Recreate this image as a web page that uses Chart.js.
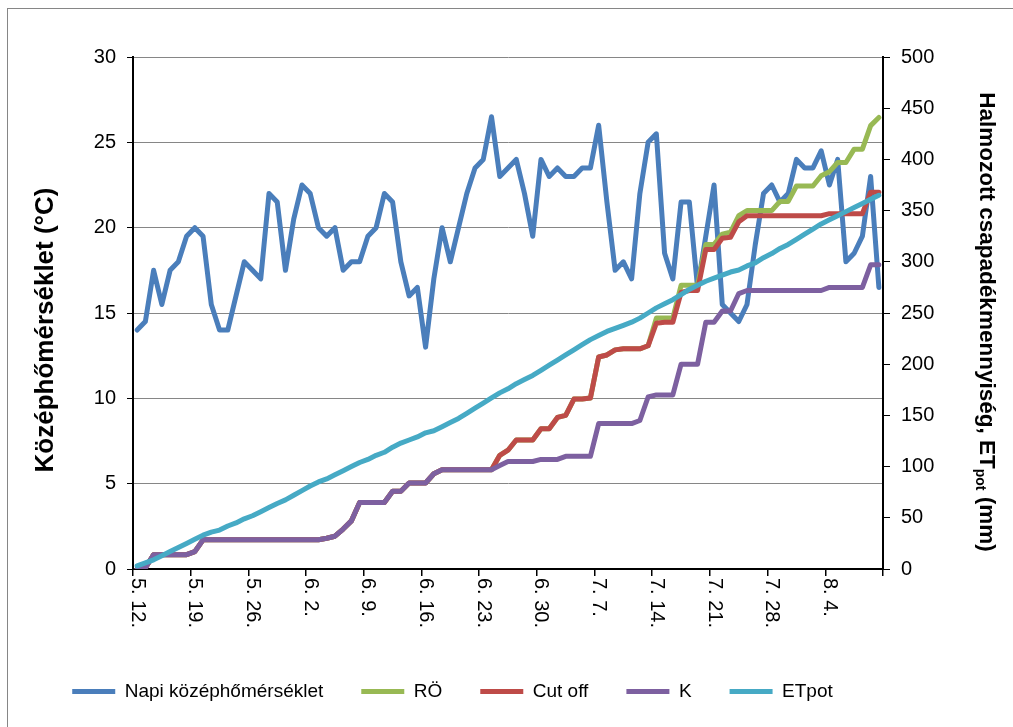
<!DOCTYPE html>
<html>
<head>
<meta charset="utf-8">
<script src="https://cdn.jsdelivr.net/npm/chart.js@4"></script>
<style>
  html, body { margin: 0; padding: 0; background: #fff; }
</style>
</head>
<body>
<canvas id="myChart" width="1013" height="727"></canvas>
<script>
// daily values, 5.12 - 8.10
const temperature = [
    14.0, 14.5, 17.5, 15.5, 17.5, 18.0, 19.5, 20.0, 19.5, 15.5,
    14.0, 14.0, 16.0, 18.0, 17.5, 17.0, 22.0, 21.5, 17.5, 20.5,
    22.5, 22.0, 20.0, 19.5, 20.0, 17.5, 18.0, 18.0, 19.5, 20.0,
    22.0, 21.5, 18.0, 16.0, 16.5, 13.0, 17.0, 20.0, 18.0, 20.0,
    22.0, 23.5, 24.0, 26.5, 23.0, 23.5, 24.0, 22.0, 19.5, 24.0,
    23.0, 23.5, 23.0, 23.0, 23.5, 23.5, 26.0, 21.5, 17.5, 18.0,
    17.0, 22.0, 25.0, 25.5, 18.5, 17.0, 21.5, 21.5, 16.5, 19.5,
    22.5, 15.5, 15.0, 14.5, 15.5, 19.0, 22.0, 22.5, 21.5, 22.0,
    24.0, 23.5, 23.5, 24.5, 22.5, 24.0, 18.0, 18.5, 19.5, 23.0,
    16.5
];

const ro = [
    0, 1, 14, 14, 14, 14, 14, 17, 28.5, 28.5,
    28.5, 28.5, 28.5, 28.5, 28.5, 28.5, 28.5, 28.5, 28.5, 28.5,
    28.5, 28.5, 28.5, 30, 32, 39, 47, 65, 65, 65,
    65, 76, 76, 84, 84, 84, 93, 97, 97, 97,
    97, 97, 97, 97, 111, 116, 126, 126, 126, 137,
    137, 148, 150, 166, 166, 167, 207, 209, 214, 215,
    215, 215, 218, 245, 245, 245, 277, 277, 277, 317,
    317, 327, 329, 345, 350, 350, 350, 350, 359, 359,
    374, 374, 374, 384, 388, 397, 397, 410, 410, 433,
    441
];

const cutOff = [
    0, 1, 14, 14, 14, 14, 14, 17, 28.5, 28.5,
    28.5, 28.5, 28.5, 28.5, 28.5, 28.5, 28.5, 28.5, 28.5, 28.5,
    28.5, 28.5, 28.5, 30, 32, 39, 47, 65, 65, 65,
    65, 76, 76, 84, 84, 84, 93, 97, 97, 97,
    97, 97, 97, 97, 111, 116, 126, 126, 126, 137,
    137, 148, 150, 166, 166, 167, 207, 209, 214, 215,
    215, 215, 218, 240, 241, 241, 270, 272, 272, 312,
    312, 323, 324, 339, 345, 345, 345, 345, 345, 345,
    345, 345, 345, 345, 347, 347, 347, 347, 347, 368,
    368
];

const kSeries = [
    0, 1, 14, 14, 14, 14, 14, 17, 28.5, 28.5,
    28.5, 28.5, 28.5, 28.5, 28.5, 28.5, 28.5, 28.5, 28.5, 28.5,
    28.5, 28.5, 28.5, 30, 32, 39, 47, 65, 65, 65,
    65, 76, 76, 84, 84, 84, 93, 97, 97, 97,
    97, 97, 97, 97, 101, 105, 105, 105, 105, 107,
    107, 107, 110, 110, 110, 110, 142, 142, 142, 142,
    142, 145, 168, 170, 170, 170, 200, 200, 200, 241,
    241, 252, 252, 269, 272, 272, 272, 272, 272, 272,
    272, 272, 272, 272, 275, 275, 275, 275, 275, 297,
    297
];

const etPot = [
    3, 6, 9, 13, 17, 21, 25, 29, 33, 36,
    38, 42, 45, 49, 52, 56, 60, 64, 67.5, 72,
    76.5, 81, 85, 88, 92, 96, 100, 104, 107, 111,
    114, 119, 123, 126, 129, 133, 135, 139, 143, 147,
    152, 157, 162, 167, 172, 176, 181, 185, 189, 194,
    199, 204, 209, 214, 219, 224, 228, 232, 235, 238,
    241, 245, 250, 255, 259, 263, 268, 273, 277, 281,
    284, 287, 290, 292, 296, 299, 304, 308, 313, 317,
    322, 327, 332, 337, 341, 345, 349, 353, 357, 361,
    365
];

// one category per day, "5. 12." style
const days = [];
for (let i = 0; i < temperature.length; i++) {
    const d = new Date(2000, 4, 12 + i);
    days.push(`${d.getMonth() + 1}. ${d.getDate()}.`);
}
const tickEvery = 7;

const FONT = 'Arial, "Liberation Sans", sans-serif';
Chart.defaults.font.family = FONT;
Chart.defaults.color = '#000';

// outer frame, rotated date labels and the two axis titles
const extras = {
    id: 'extras',
    afterLayout(chart) {
        // legend row sits a bit left of centre
        chart.legend.left -= 54;
        chart.legend.right -= 54;
    },
    beforeDraw(chart) {
        const { ctx } = chart;
        ctx.save();
        ctx.fillStyle = '#fff';
        ctx.fillRect(0, 0, chart.width, chart.height);
        ctx.strokeStyle = '#868686';
        ctx.lineWidth = 1;
        ctx.strokeRect(7.5, 8.5, chart.width, chart.height);
        ctx.restore();
    },
    afterDraw(chart) {
        const { ctx, scales: { x, y1 } } = chart;
        ctx.save();
        ctx.fillStyle = '#000';
        ctx.textBaseline = 'middle';

        ctx.font = `20px ${FONT}`;
        ctx.textAlign = 'left';
        days.forEach((label, i) => {
            if (i % tickEvery) return;
            ctx.save();
            ctx.translate(x.getPixelForValue(i), x.top + 9);
            ctx.rotate(Math.PI / 2);
            ctx.fillText(label, 0, 0);
            ctx.restore();
        });

        // left title
        ctx.font = `bold 26px ${FONT}`;
        ctx.textAlign = 'center';
        ctx.save();
        ctx.translate(46, 330);
        ctx.rotate(-Math.PI / 2);
        ctx.fillText('Középhőmérséklet (°C)', 0, 0);
        ctx.restore();

        // right title with subscript
        const parts = [
            { text: 'Halmozott csapadékmennyiség, ET', size: 22.5, dy: 0 },
            { text: 'pot', size: 14, dy: 6 },
            { text: ' (mm)', size: 22.5, dy: 0 }
        ];
        let total = 0;
        parts.forEach(p => {
            ctx.font = `bold ${p.size}px ${FONT}`;
            p.w = ctx.measureText(p.text).width;
            total += p.w;
        });
        ctx.textAlign = 'left';
        ctx.translate(y1.left + 103, 322);
        ctx.rotate(Math.PI / 2);
        let pos = -total / 2;
        parts.forEach(p => {
            ctx.font = `bold ${p.size}px ${FONT}`;
            ctx.fillText(p.text, pos, p.dy);
            pos += p.w;
        });
        ctx.restore();
    }
};

const line = (label, data, color, axis, order) => ({
    label,
    data,
    yAxisID: axis,
    order,
    borderColor: color,
    backgroundColor: color,
    borderWidth: 5,
    borderCapStyle: 'round',
    borderJoinStyle: 'round',
    pointRadius: 0,
    tension: 0,
    fill: false
});

const ctx = document.getElementById('myChart');
new Chart(ctx, {
    type: 'line',
    data: {
        labels: days,
        datasets: [
            line('Napi középhőmérséklet', temperature, '#4A7EBB', 'y', 5),
            line('RÖ', ro, '#98B954', 'y1', 4),
            line('Cut off', cutOff, '#BE4B48', 'y1', 3),
            line('K', kSeries, '#7D60A0', 'y1', 2),
            line('ETpot', etPot, '#46AAC5', 'y1', 1)
        ]
    },
    options: {
        responsive: false,
        animation: false,
        devicePixelRatio: 1,
        layout: {
            padding: { top: 57, right: 0, bottom: 16, left: 0 }
        },
        plugins: {
            legend: {
                position: 'bottom',
                labels: {
                    usePointStyle: true,
                    pointStyle: 'line',
                    pointStyleWidth: 43,
                    padding: 38,
                    color: '#000',
                    font: { size: 19 },
                    sort: (a, b) => a.datasetIndex - b.datasetIndex
                }
            },
            tooltip: { enabled: false }
        },
        scales: {
            x: {
                type: 'category',
                offset: true,
                afterFit: (s) => { s.height = 75; },
                ticks: { display: false, autoSkip: false },
                grid: {
                    offset: true,
                    drawOnChartArea: false,
                    tickLength: 7,
                    lineWidth: 1.5,
                    color: (c) => (c.index === undefined || c.index % tickEvery === 0) ? '#000' : 'rgba(0,0,0,0)'
                },
                border: { color: '#000', width: 2 }
            },
            y: {
                position: 'left',
                min: 0,
                max: 30,
                afterFit: (s) => { s.width = 133; },
                ticks: { stepSize: 5, padding: 11, font: { size: 20 } },
                grid: { color: '#868686', tickColor: '#000', tickLength: 6, lineWidth: 1 },
                border: { color: '#000', width: 2 }
            },
            y1: {
                position: 'right',
                min: 0,
                max: 500,
                afterFit: (s) => { s.width = 130; },
                ticks: { stepSize: 50, padding: 11, font: { size: 20 } },
                grid: { drawOnChartArea: false, tickColor: '#000', tickLength: 7 },
                border: { color: '#000', width: 2 }
            }
        }
    },
    plugins: [extras]
});
</script>
</body>
</html>
